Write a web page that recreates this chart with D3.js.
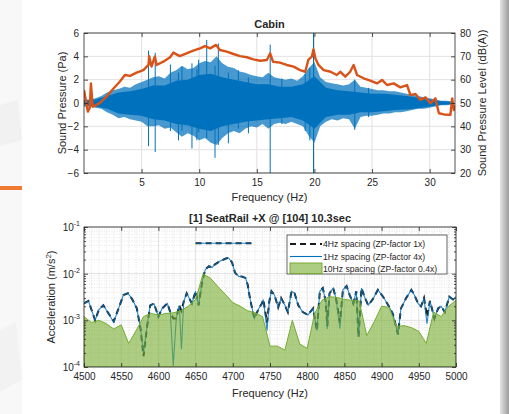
<!DOCTYPE html>
<html>
<head>
<meta charset="utf-8">
<script src="https://cdn.jsdelivr.net/npm/d3@7"></script>
<style>
  body { margin: 0; background: #fff; }
  text { font-family: "Liberation Sans", Arial, sans-serif; fill: #262626; }
</style>
</head>
<body>
<div id="chart"></div>
<script>
// ---------- data: Cabin (top) ----------
const sigF = [0,0.5,1,1.5,2,2.5,3,3.5,4,4.5,5,5.5,6,6.5,7,7.5,8,8.5,9,9.5,10,10.5,11,11.5,12,12.5,13,13.5,14,14.5,15,15.5,16,16.5,17,17.5,18,18.5,19,19.5,20,20.5,21,21.5,22,22.5,23,23.5,24,24.5,25,25.5,26,26.5,27,27.5,28,28.5,29,29.5,30,30.5,31,31.5,32];
const sigHi = [0.3,0.3,0.4,0.6,0.9,1.1,1.2,1.4,1.3,1.6,1.8,2.0,2.2,2.3,2.1,2.6,2.8,3.2,2.9,3.0,3.4,3.6,3.5,4.0,3.4,3.1,3.0,2.7,2.6,2.4,2.3,2.2,2.6,2.2,2.1,2.0,2.1,1.9,2.3,3.0,3.5,2.2,1.8,1.7,1.6,1.5,1.6,2.0,1.4,1.3,1.2,1.1,1.1,1.0,1.0,0.9,0.8,0.7,0.6,0.5,0.4,0.3,0.2,0.2,0.1];
const sigLo = [-0.3,-0.3,-0.4,-0.5,-0.8,-1.0,-1.3,-1.2,-1.4,-1.5,-1.6,-2.0,-2.0,-1.9,-2.2,-2.1,-2.5,-2.9,-2.6,-2.8,-3.2,-3.0,-3.4,-3.6,-3.0,-2.6,-2.4,-2.6,-2.2,-2.0,-2.1,-1.8,-2.2,-1.8,-1.7,-1.8,-1.6,-1.8,-2.0,-2.8,-3.4,-2.0,-1.6,-1.4,-1.5,-1.3,-1.4,-2.2,-1.2,-1.1,-1.1,-1.0,-0.9,-0.9,-0.8,-0.8,-0.7,-0.6,-0.5,-0.5,-0.4,-0.3,-0.2,-0.2,-0.1];
const coreF = [0,1,2,3,4,5,6,7,8,9,10,11,12,13,14,15,16,17,18,19,20,21,22,23,24,25,26,27,28,29,30,31,32];
const coreHi = [0.2,0.3,0.6,0.9,1.0,1.2,1.5,1.5,1.9,2.0,2.4,2.5,2.2,2.0,1.8,1.6,1.6,1.4,1.4,1.6,2.3,1.3,1.1,1.0,0.9,0.8,0.8,0.7,0.6,0.45,0.3,0.15,0.1];
const coreLo = [-0.2,-0.3,-0.5,-0.9,-1.0,-1.1,-1.4,-1.5,-1.8,-1.9,-2.2,-2.4,-2.0,-1.8,-1.6,-1.5,-1.4,-1.3,-1.2,-1.5,-2.2,-1.2,-1.0,-1.0,-0.8,-0.8,-0.7,-0.6,-0.55,-0.45,-0.3,-0.15,-0.1];
// single spikes of the pressure trace: [freq, min, max]
const spikes = [[5.6,-3.7,4.5],[6.18,-4.2,4.3],[7.5,-2.4,3.3],[8.2,-3.2,2.6],[8.5,-2.4,3.1],[9.37,-3.9,3.4],[9.8,-3.2,2.9],[9.95,-2.5,3.7],[10.65,-3.0,5.4],[11.37,-4.7,3.2],[11.66,-3.6,5.1],[12.53,-3.45,2.6],[13.4,-2.2,2.8],[14.27,-2.6,2.2],[16.16,-6.3,5.0],[17.17,-1.8,2.1],[19.2,-2.4,2.5],[19.6,-3.2,3.0],[19.92,-6.3,6.3],[23.5,-2.3,2.0],[24.7,-1.2,1.3]];
const splF = [0,0.33,0.5,0.6,0.75,1.0,1.37,1.95,2.5,3.1,3.55,4.0,4.56,5.15,5.6,5.65,5.86,6.15,6.3,6.88,7.47,7.75,8.3,8.9,9.48,10.07,10.5,10.95,11.46,11.8,12.4,12.97,13.55,14.13,14.7,15.3,15.87,16.16,16.4,17.0,17.6,18.2,18.75,19.2,19.48,19.78,19.92,20.07,20.35,20.8,21.4,21.95,22.24,22.68,23.1,23.4,23.7,24.27,24.85,25.43,25.87,26.3,26.88,27.46,28.04,28.33,28.77,29.2,29.63,30.07,30.5,30.8,31.24,31.8,31.96,32.1,32.2];
const splDb = [55.6,46.3,48,58.4,48.4,49,50,52.7,55.9,59.1,62,61.6,63,64.1,66.3,70.1,65.6,69.9,66.3,67.7,69.6,71.6,70.1,71.3,72.4,73.4,74.4,73.4,74.9,72.7,72,71,70.1,69.6,68.7,68.1,68.4,71.3,67.7,67.3,66.3,65.6,64.1,63.4,68.6,69.9,73,69.3,66.3,64.1,63.4,62,63.4,61.3,63.4,66.3,62,60.6,59.6,58.4,59.9,57.7,58.4,56.7,57.7,53.4,53.9,51.3,52.4,49.9,52,45.6,45.1,44.9,52,47,49];
const cabinXTicks = [5,10,15,20,25,30];
const cabinYTicks = [-6,-4,-2,0,2,4,6];
const cabinY2Ticks = [20,30,40,50,60,70,80];

// ---------- data: SeatRail (bottom) ----------
const specF =   [4500,4506,4515,4520,4526,4533,4540,4547,4553,4559,4565,4571,4576,4580,4585,4589,4594,4600,4605,4612,4616,4620,4624,4628,4631,4634,4638,4645,4650,4654,4659,4663,4668,4672,4676,4683,4690,4694,4699,4703,4708,4712,4717,4720,4723,4727,4729,4735,4739,4741,4746,4749,4752,4756,4761,4765,4770,4774,4779,4783,4788,4794,4801,4808,4813,4817,4821,4825,4827,4830,4835,4839,4844,4848,4853,4857,4862,4866,4869,4873,4877,4882,4888,4895,4902,4909,4915,4922,4926,4933,4940,4944,4949,4953,4957,4961,4965,4971,4976,4980,4985,4991,4996,5000];
const spec1Hz = [2.3e-3,2.6e-3,1.0e-3,1.7e-3,2.1e-3,1.4e-3,9.1e-4,1.9e-3,3.5e-3,3.8e-3,2.8e-3,1.8e-3,6.6e-4,2.0e-4,7.8e-4,2.1e-3,2.3e-3,1.2e-3,1.8e-3,2.3e-3,1.5e-3,1.05e-4,1.1e-3,2.1e-3,2.4e-4,2.5e-3,3.8e-3,2.3e-3,4.2e-3,2.1e-3,6.9e-3,1.23e-2,1.45e-2,1.35e-2,1.58e-2,1.86e-2,2.09e-2,2.19e-2,1.74e-2,1.05e-2,8.7e-3,8.7e-3,8.1e-3,5.8e-3,3.0e-3,1.5e-3,1.1e-3,1.8e-3,2.3e-3,2.8e-3,6.0e-4,2.5e-3,4.2e-3,3.5e-3,1.9e-3,3.0e-3,2.1e-3,1.5e-3,4.2e-3,3.8e-3,2.1e-3,1.5e-3,1.3e-3,1.8e-3,6.0e-4,4.2e-3,4.9e-3,2.5e-3,6.5e-4,3.8e-3,4.9e-3,2.8e-3,6.6e-4,4.5e-3,5.4e-3,3.5e-3,2.3e-3,4.2e-3,4.4e-4,4.9e-3,3.2e-3,2.1e-3,2.8e-3,4.5e-3,3.2e-3,2.1e-3,1.4e-3,5.0e-4,1.8e-3,3.0e-3,4.5e-3,3.5e-3,2.3e-3,2.0e-3,3.0e-3,8.5e-4,2.6e-3,1.1e-3,1.8e-3,2.0e-3,1.5e-3,3.2e-3,2.8e-3,3.2e-3];
const spec4Hz = [2.3e-3,2.6e-3,1.0e-3,1.7e-3,2.1e-3,1.4e-3,9.5e-4,1.9e-3,3.5e-3,3.8e-3,2.8e-3,1.8e-3,6.6e-4,1.7e-4,7.8e-4,2.1e-3,2.3e-3,1.2e-3,1.8e-3,2.3e-3,1.5e-3,1.1e-3,1.1e-3,2.1e-3,1.6e-3,2.5e-3,3.8e-3,2.3e-3,4.2e-3,2.1e-3,6.9e-3,1.23e-2,1.45e-2,1.35e-2,1.58e-2,1.86e-2,2.09e-2,2.19e-2,1.74e-2,1.05e-2,8.7e-3,8.7e-3,8.1e-3,5.8e-3,3.0e-3,1.5e-3,1.1e-3,1.8e-3,2.3e-3,2.8e-3,9.0e-4,2.5e-3,4.2e-3,3.5e-3,1.9e-3,3.0e-3,2.1e-3,1.5e-3,4.2e-3,3.8e-3,2.1e-3,1.5e-3,1.3e-3,1.8e-3,6.0e-4,4.2e-3,4.9e-3,2.5e-3,7.5e-4,3.8e-3,4.9e-3,2.8e-3,9.0e-4,4.5e-3,5.4e-3,3.5e-3,2.3e-3,4.2e-3,4.4e-4,4.9e-3,3.2e-3,2.1e-3,2.8e-3,4.5e-3,3.2e-3,2.1e-3,1.4e-3,5.0e-4,1.8e-3,3.0e-3,4.5e-3,3.5e-3,2.3e-3,2.0e-3,3.0e-3,1.2e-3,2.6e-3,1.1e-3,1.8e-3,2.0e-3,1.5e-3,3.2e-3,2.8e-3,3.2e-3];
const bandF = [4650, 4725];
const bandLevel = [0.045, 0.045];
const greenF = [4500,4510,4520,4530,4540,4550,4560,4570,4580,4590,4600,4610,4620,4630,4640,4650,4660,4670,4680,4690,4700,4710,4720,4730,4740,4750,4760,4770,4780,4790,4800,4810,4820,4830,4840,4850,4860,4870,4880,4890,4900,4910,4920,4930,4940,4950,4960,4970,4980,4990,5000];
const green10Hz = [1.2e-3,9e-4,1.0e-3,8.5e-4,6.5e-4,8e-4,3.2e-4,6e-4,1.2e-3,1.4e-3,1.3e-3,1.4e-3,1.45e-3,1.6e-3,2.0e-3,2.8e-3,9.8e-3,8.0e-3,5.3e-3,3.6e-3,2.4e-3,2.0e-3,1.6e-3,1.45e-3,1.2e-3,2.8e-4,2.8e-4,2.3e-4,1.0e-3,3.1e-4,2.5e-4,1.4e-3,2.7e-3,3.2e-3,3.1e-3,2.8e-3,2.7e-3,2.6e-3,4.7e-4,9.3e-4,2.0e-3,1.9e-3,7.4e-4,7.7e-4,7.0e-4,5.8e-4,3.2e-4,1.5e-3,1.2e-3,2.0e-3,2.7e-3];
const freqTicks = [4500,4550,4600,4650,4700,4750,4800,4850,4900,4950,5000];
const accTicks = [1e-4,1e-3,1e-2,1e-1];
const accExp = ["-4","-3","-2","-1"];
const legendLabels = ["4Hz spacing (ZP-factor 1x)","1Hz spacing (ZP-factor 4x)","10Hz spacing (ZP-factor 0.4x)"];

// ---------- layout ----------
const W = 509, H = 414;
const TOP = {left: 84, right: 455, top: 33, bottom: 173};
const BOT = {left: 84, right: 456, top: 227, bottom: 367};
const BLUE = "#0072BD", ORANGE = "#D95319", GREEN = "#77AC30";
const GRID = "#e1e1e1", AXIS = "#262626";

const svg = d3.select("#chart").append("svg")
  .attr("width", W).attr("height", H);

// slide bits around the figure
const defs = svg.append("defs");
const sh = defs.append("linearGradient").attr("id", "shade");
sh.append("stop").attr("offset", "0%").attr("stop-color", "#e4e4e4");
sh.append("stop").attr("offset", "100%").attr("stop-color", "#9c9c9c");
svg.append("rect").attr("width", W).attr("height", H).attr("fill", "#f8f8f8");
svg.append("path").attr("d", "M0,105 L18,100 L22,140 L0,146Z").attr("fill", "#f1f1f1");
svg.append("path").attr("d", "M0,330 L16,322 L22,380 L0,392Z").attr("fill", "#f2f2f2");
svg.append("rect").attr("x", 22).attr("width", 478).attr("height", H).attr("fill", "#fff");
svg.append("rect").attr("x", 500).attr("width", 9).attr("height", H).attr("fill", "url(#shade)");
svg.append("rect").attr("x", 0).attr("y", 186).attr("width", 22).attr("height", 4).attr("fill", "#F07A32");

function clipRect(id, b){
  defs.append("clipPath").attr("id", id).append("rect")
    .attr("x", b.left).attr("y", b.top)
    .attr("width", b.right - b.left).attr("height", b.bottom - b.top);
}
clipRect("clipTop", TOP);
clipRect("clipBot", BOT);

function styleAxis(g){
  g.select(".domain").remove();
  g.selectAll(".tick line").attr("stroke", AXIS).attr("stroke-width", 0.8);
  g.selectAll(".tick text").attr("font-size", 10).attr("fill", AXIS);
}

// ================= Cabin =================
const x1 = d3.scaleLinear().domain([0, 32.2]).range([TOP.left, TOP.right]);
const y1 = d3.scaleLinear().domain([-6, 6]).range([TOP.bottom, TOP.top]);
const y1r = d3.scaleLinear().domain([20, 80]).range([TOP.bottom, TOP.top]);

const g1 = svg.append("g");
g1.append("rect").attr("x", TOP.left).attr("y", TOP.top)
  .attr("width", TOP.right - TOP.left).attr("height", TOP.bottom - TOP.top).attr("fill", "#fff");
g1.selectAll(".vg").data(cabinXTicks).join("line")
  .attr("x1", d => x1(d)).attr("x2", d => x1(d))
  .attr("y1", TOP.top).attr("y2", TOP.bottom).attr("stroke", GRID);
g1.selectAll(".hg").data(cabinYTicks).join("line")
  .attr("y1", d => y1(d)).attr("y2", d => y1(d))
  .attr("x1", TOP.left).attr("x2", TOP.right).attr("stroke", GRID);

const plot1 = g1.append("g").attr("clip-path", "url(#clipTop)");
const sig = sigF.map((f, i) => ({f, hi: sigHi[i], lo: sigLo[i]}));
const core = coreF.map((f, i) => ({f, hi: coreHi[i], lo: coreLo[i]}));
const band = d3.area().x(d => x1(d.f)).y0(d => y1(d.lo)).y1(d => y1(d.hi));

plot1.append("path").datum(sig).attr("d", band)
  .attr("fill", BLUE).attr("fill-opacity", 0.72);
plot1.append("path").datum(core).attr("d", band)
  .attr("fill", BLUE);
plot1.selectAll(".spike").data(spikes).join("line")
  .attr("x1", d => x1(d[0])).attr("x2", d => x1(d[0]))
  .attr("y1", d => y1(d[1])).attr("y2", d => y1(d[2]))
  .attr("stroke", BLUE).attr("stroke-width", 1);

const spl = splF.map((f, i) => ({f, v: splDb[i]}));
plot1.append("path").datum(spl)
  .attr("d", d3.line().x(d => x1(d.f)).y(d => y1r(d.v)))
  .attr("fill", "none").attr("stroke", ORANGE).attr("stroke-width", 2.4)
  .attr("stroke-linejoin", "round");

g1.append("g").attr("transform", `translate(0,${TOP.bottom})`)
  .call(d3.axisBottom(x1).tickValues(cabinXTicks).tickSize(-4).tickPadding(6)).call(styleAxis);
g1.append("g").attr("transform", `translate(0,${TOP.top})`)
  .call(d3.axisTop(x1).tickValues(cabinXTicks).tickSize(-4).tickFormat("")).call(styleAxis);
g1.append("g").attr("transform", `translate(${TOP.left},0)`)
  .call(d3.axisLeft(y1).tickValues(cabinYTicks).tickSize(-4).tickPadding(5)).call(styleAxis);
g1.append("g").attr("transform", `translate(${TOP.right},0)`)
  .call(d3.axisRight(y1r).tickValues(cabinY2Ticks).tickSize(-4).tickPadding(5)).call(styleAxis);
g1.append("rect").attr("x", TOP.left).attr("y", TOP.top)
  .attr("width", TOP.right - TOP.left).attr("height", TOP.bottom - TOP.top)
  .attr("fill", "none").attr("stroke", AXIS).attr("stroke-width", 0.8);

g1.append("text").attr("x", (TOP.left + TOP.right) / 2).attr("y", 28)
  .attr("text-anchor", "middle").attr("font-size", 11).attr("font-weight", "bold").text("Cabin");
g1.append("text").attr("x", (TOP.left + TOP.right) / 2).attr("y", 201)
  .attr("text-anchor", "middle").attr("font-size", 11).text("Frequency (Hz)");
g1.append("text").attr("transform", `translate(66,${(TOP.top + TOP.bottom) / 2}) rotate(-90)`)
  .attr("text-anchor", "middle").attr("font-size", 11).text("Sound Pressure (Pa)");
g1.append("text").attr("transform", `translate(486,${(TOP.top + TOP.bottom) / 2}) rotate(-90)`)
  .attr("text-anchor", "middle").attr("font-size", 11).text("Sound Pressure Level (dB(A))");

// ================= SeatRail =================
const x2 = d3.scaleLinear().domain([4500, 5000]).range([BOT.left, BOT.right]);
const y2 = d3.scaleLog().domain([1e-4, 1e-1]).range([BOT.bottom, BOT.top]);

const g2 = svg.append("g");
g2.append("rect").attr("x", BOT.left).attr("y", BOT.top)
  .attr("width", BOT.right - BOT.left).attr("height", BOT.bottom - BOT.top).attr("fill", "#fff");

// minor grid positions
const xMinor = d3.range(4510, 5000, 10).filter(d => d % 50 !== 0);
const yMinor = [];
[1e-4, 1e-3, 1e-2].forEach(dec => { for (let m = 2; m <= 9; m++) yMinor.push(m * dec); });

g2.selectAll(".xm").data(xMinor).join("line")
  .attr("x1", d => x2(d)).attr("x2", d => x2(d)).attr("y1", BOT.top).attr("y2", BOT.bottom)
  .attr("stroke", "#d4d4d4").attr("stroke-width", 0.6).attr("stroke-dasharray", "1,1.5");
g2.selectAll(".ym").data(yMinor).join("line")
  .attr("y1", d => y2(d)).attr("y2", d => y2(d)).attr("x1", BOT.left).attr("x2", BOT.right)
  .attr("stroke", "#d4d4d4").attr("stroke-width", 0.6).attr("stroke-dasharray", "1,1.5");
g2.selectAll(".xg").data(freqTicks).join("line")
  .attr("x1", d => x2(d)).attr("x2", d => x2(d)).attr("y1", BOT.top).attr("y2", BOT.bottom)
  .attr("stroke", GRID);
g2.selectAll(".yg").data(accTicks).join("line")
  .attr("y1", d => y2(d)).attr("y2", d => y2(d)).attr("x1", BOT.left).attr("x2", BOT.right)
  .attr("stroke", GRID);

const plot2 = g2.append("g").attr("clip-path", "url(#clipBot)");
const line2 = d3.line().x(d => x2(d.f)).y(d => y2(d.v));
const s4 = specF.map((f, i) => ({f, v: spec4Hz[i]}));
const s1 = specF.map((f, i) => ({f, v: spec1Hz[i]}));
const bnd = bandF.map((f, i) => ({f, v: bandLevel[i]}));
const gr = greenF.map((f, i) => ({f, v: green10Hz[i]}));

[s4, bnd].forEach(d => plot2.append("path").datum(d).attr("d", line2)
  .attr("fill", "none").attr("stroke", "#1a1a1a").attr("stroke-width", 2)
  .attr("stroke-dasharray", "6,4"));
[s1, bnd].forEach(d => plot2.append("path").datum(d).attr("d", line2)
  .attr("fill", "none").attr("stroke", BLUE).attr("stroke-width", 1.1)
  .attr("stroke-opacity", 0.85));

plot2.append("path").datum(gr)
  .attr("d", d3.area().x(d => x2(d.f)).y0(BOT.bottom).y1(d => y2(d.v)))
  .attr("fill", GREEN).attr("fill-opacity", 0.6)
  .attr("stroke", GREEN).attr("stroke-width", 1);

// axes
g2.append("g").attr("transform", `translate(0,${BOT.bottom})`)
  .call(d3.axisBottom(x2).tickValues(freqTicks).tickSize(-4).tickPadding(6).tickFormat(d3.format("d"))).call(styleAxis);
g2.append("g").attr("transform", `translate(0,${BOT.top})`)
  .call(d3.axisTop(x2).tickValues(freqTicks).tickSize(-4).tickFormat("")).call(styleAxis);
g2.append("g").attr("transform", `translate(${BOT.left},0)`)
  .call(d3.axisLeft(y2).tickValues(accTicks).tickSize(-4).tickFormat("")).call(styleAxis);
g2.append("g").attr("transform", `translate(${BOT.left},0)`)
  .call(d3.axisLeft(y2).tickValues(yMinor).tickSize(-2).tickFormat("")).call(styleAxis);
g2.append("g").attr("transform", `translate(${BOT.right},0)`)
  .call(d3.axisRight(y2).tickValues(accTicks).tickSize(-4).tickFormat("")).call(styleAxis);
g2.append("g").attr("transform", `translate(${BOT.right},0)`)
  .call(d3.axisRight(y2).tickValues(yMinor).tickSize(-2).tickFormat("")).call(styleAxis);

const ylab = g2.selectAll(".acc").data(accTicks).join("text")
  .attr("x", BOT.left - 4).attr("y", d => y2(d) + 4)
  .attr("text-anchor", "end").attr("font-size", 10);
ylab.append("tspan").text("10");
ylab.append("tspan").attr("dy", -5).attr("font-size", 7).text((d, i) => accExp[i]);

g2.append("rect").attr("x", BOT.left).attr("y", BOT.top)
  .attr("width", BOT.right - BOT.left).attr("height", BOT.bottom - BOT.top)
  .attr("fill", "none").attr("stroke", AXIS).attr("stroke-width", 0.8);

g2.append("text").attr("x", (BOT.left + BOT.right) / 2).attr("y", 222)
  .attr("text-anchor", "middle").attr("font-size", 11).attr("font-weight", "bold")
  .text("[1] SeatRail +X @ [104] 10.3sec");
g2.append("text").attr("x", (BOT.left + BOT.right) / 2).attr("y", 397)
  .attr("text-anchor", "middle").attr("font-size", 11).text("Frequency (Hz)");
const accLabel = g2.append("text")
  .attr("transform", `translate(55,${(BOT.top + BOT.bottom) / 2}) rotate(-90)`)
  .attr("text-anchor", "middle").attr("font-size", 11);
accLabel.append("tspan").text("Acceleration (m/s");
accLabel.append("tspan").attr("dy", -4).attr("font-size", 8).text("2");
accLabel.append("tspan").attr("dy", 4).text(")");

// legend
const lg = g2.append("g");
lg.append("rect").attr("x", 287).attr("y", 235).attr("width", 160).attr("height", 39)
  .attr("fill", "#fff").attr("stroke", AXIS).attr("stroke-width", 0.7);
const rowY = [244, 256.5, 268.5];
lg.append("line").attr("x1", 290).attr("x2", 322).attr("y1", rowY[0]).attr("y2", rowY[0])
  .attr("stroke", "#1a1a1a").attr("stroke-width", 2).attr("stroke-dasharray", "6,4");
lg.append("line").attr("x1", 290).attr("x2", 322).attr("y1", rowY[1]).attr("y2", rowY[1])
  .attr("stroke", BLUE).attr("stroke-width", 1.1);
lg.append("rect").attr("x", 290).attr("y", 263).attr("width", 32).attr("height", 10.5)
  .attr("fill", GREEN).attr("fill-opacity", 0.6).attr("stroke", GREEN).attr("stroke-width", 1);
lg.selectAll(".lt").data(legendLabels).join("text")
  .attr("x", 323).attr("y", (d, i) => rowY[i] + 3)
  .attr("font-size", 8.6).text(d => d);
</script>
</body>
</html>
